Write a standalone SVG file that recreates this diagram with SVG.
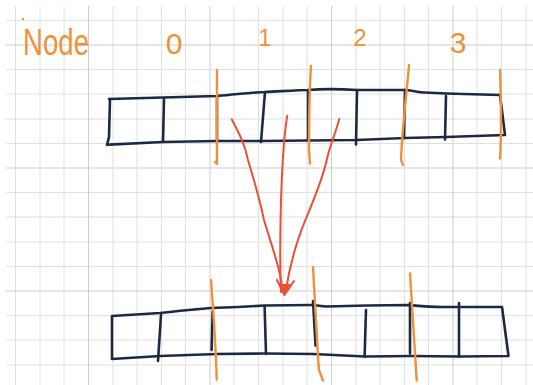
<svg xmlns="http://www.w3.org/2000/svg" width="533" height="385" viewBox="0 0 533 385">
<style>
.g{stroke:#e0e0e0;stroke-width:1;fill:none}
.gd{stroke:#cdcdcd;stroke-width:1;fill:none}
.nv{stroke:#1b2a44;stroke-width:2.6;fill:none;stroke-linecap:round;stroke-linejoin:round}
.or{stroke:#f0913a;stroke-width:2.4;fill:none;stroke-linecap:round;stroke-linejoin:round}
.rd{stroke:#e8503a;stroke-width:2;fill:none;stroke-linecap:round;stroke-linejoin:round}
.lbl{fill:#f0913a;font-family:"Liberation Sans","DejaVu Sans",sans-serif;font-weight:300}
</style>
<rect width="533" height="385" fill="#ffffff"/>
<g id="grid">
<path class="g" d="M6,20.5H533M6,69.5H533M6,94H533M6,119H533M6,143.5H533M6,192.5H533M6,217H533M6,242H533M6,266.5H533M6,315.5H533M6,340H533M6,365H533"/>
<path class="gd" d="M6,45H533M6,168H533M6,291H533"/>
<path class="g" d="M15.5,6V385M40,6V385M64,6V385M113,6V385M137,6V385M161.5,6V385M185.5,6V385M234,6V385M258.5,6V385M283,6V385M307,6V385M356,6V385M380,6V385M404.5,6V385M428.5,6V385M477,6V385M501.5,6V385M526,6V385"/>
<path class="gd" d="M88.5,6V385M210,6V385M331.5,6V385M453,6V385"/>
</g>
<g id="labels">
<circle cx="23" cy="19" r="0.9" fill="#e8503a"/>
<text class="lbl" x="23" y="55" font-size="36" textLength="66" lengthAdjust="spacingAndGlyphs">Node</text>
<text class="lbl" x="174" y="54" font-size="30" text-anchor="middle">0</text>
<text class="lbl" x="265" y="46" font-size="24" text-anchor="middle">1</text>
<text class="lbl" x="360" y="46" font-size="24" text-anchor="middle">2</text>
<text class="lbl" x="458" y="53" font-size="30" text-anchor="middle">3</text>
</g>
<g id="top-array">
<path class="nv" d="M109,99 C150,98 190,97 217,96 C240,94 255,92 265,92 C285,91 300,90 308,90 C320,89 340,89 357,90 L406,90 C415,91 420,92.5 425,92.5 L446,93.5 L500,95 L505,135 L446,137 L405,138 L357,140 L308,140.5 L262,141 L217,141 L163,142 C140,143 120,144 109,144.6"/>
<path class="nv" d="M110,99 L109,137 L107,145"/>
<path class="nv" d="M164,99 L163,142 M265,92 L261,142 M357,90 L356,144.5 M446,96 L445,139.5 M217,96 L217,141 M308,90 L308,140 M405,90 L404,138"/>
<path class="or" d="M217,70 L217,164 L215,162 M311,66 C309,95 309,120 309,150 L310,163.6 M409,65 C406,100 402,130 401,160 L403,165 M500,70 C501,100 502,130 500,158.5"/>
</g>
<g id="bottom-array">
<path class="nv" d="M112,316 L160,313 C185,310 200,309 211,308 L238,307 L265,305.5 L311,305 C318,305 320,306.5 326.5,306.5 L367,305.5 L408,305 C420,306 430,307 442,307 L502,307 L508.5,356 L459,356.5 L411.5,356 L365.6,356.5 L313,354 L265,353.5 L217.7,354 L160,356 L112,359 Z"/>
<path class="nv" d="M161,315 L158,361 M212.6,311.6 L211.6,350 M264.6,306.5 L266,354 M313,301 L315.6,345.6 M366,310 L364.6,356.5 M410,303 L410,353.4 M459,303 L459,356.5"/>
<path class="or" d="M211,280 C214,320 216,350 216.7,379.6 M313,267 C316,320 318,360 319,370 L323,380.6 M410,273.5 C413,320 415,350 416.7,380.6"/>
</g>
<g id="connectors">
<path class="rd" d="M231.7,119.3 C240,135 245,145 248,160 C254,180 260,200 264,220 C270,240 277,260 280,275 L283,291"/>
<path class="rd" d="M287.3,115.7 C283,140 282,170 281,200 C280,240 280,270 281,292"/>
<path class="rd" d="M339.3,119 C335,135 330,145 326.7,160 C320,190 306,215 298,240 C292,258 289,270 286,290"/>
<path class="rd" d="M277,280 L284.5,295 L294,281"/>
<path d="M279,284 L284.5,294 L291,284 Z" fill="#e8503a"/>
</g>
</svg>
